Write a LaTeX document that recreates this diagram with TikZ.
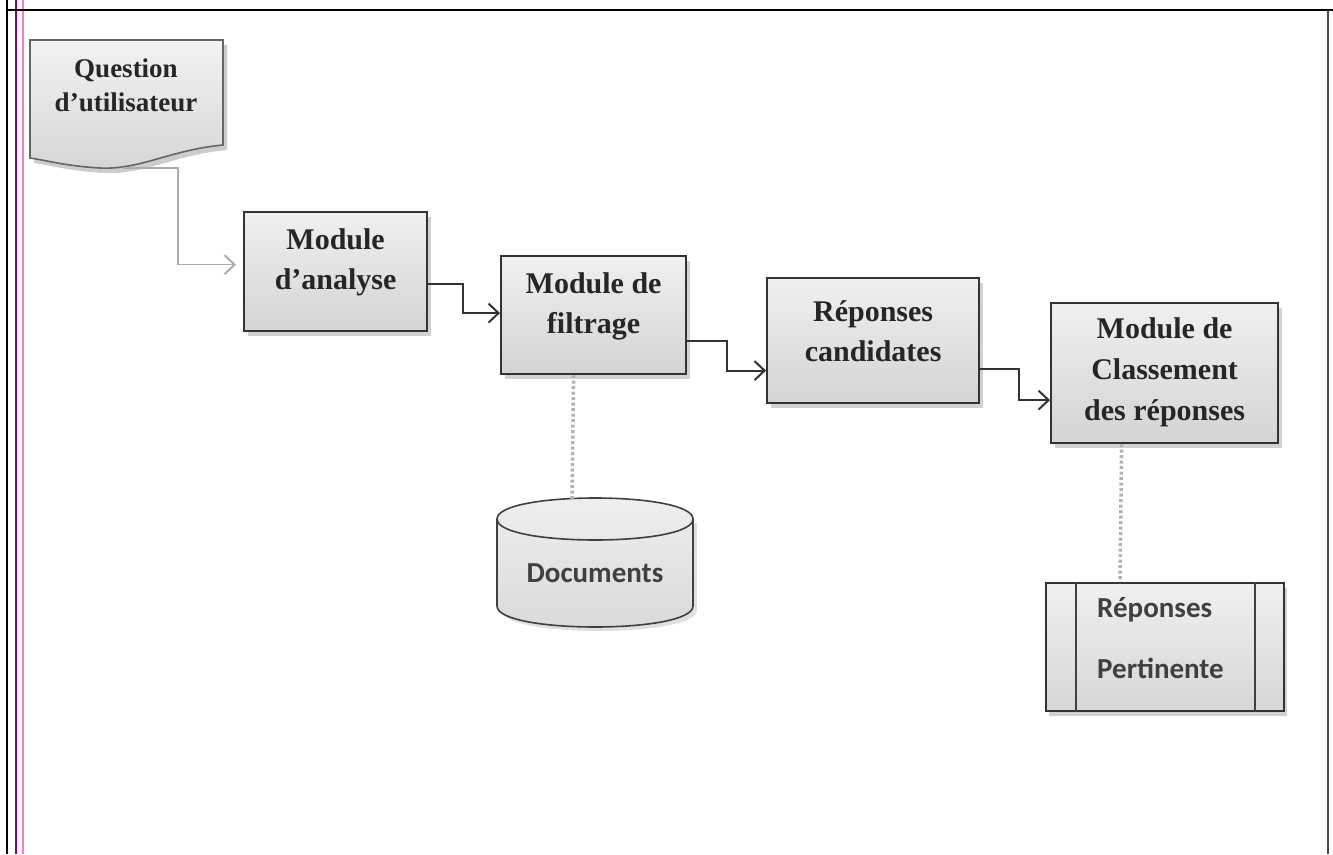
\documentclass[tikz,border=0pt]{standalone}
\usepackage{fontspec}
\setmainfont{Liberation Serif}
\newfontfamily\calib{Carlito}
\usetikzlibrary{arrows.meta,shadows}
\begin{document}
\begin{tikzpicture}[x=1pt,y=-1pt,
  box/.style={draw=black!80, line width=2.2pt, top color=gray!12, bottom color=gray!34,
    drop shadow={shadow xshift=4pt, shadow yshift=-5pt, fill=gray!45, opacity=0.8},
    inner sep=0pt, anchor=north west},
  boxtext/.style={align=center, font=\fontsize{30}{40}\selectfont\bfseries, text=black!85, inner sep=0pt, yshift=9pt},
  conn/.style={line width=2pt, draw=black!80, -{Straight Barb[length=10pt,width=19pt,line width=2pt]}},
  dots/.style={line width=3.5pt, draw=gray!60, dash pattern=on 3pt off 2.5pt},
  sanslbl/.style={font=\calib\fontsize{29}{30}\selectfont\bfseries, text=black!75, anchor=west, inner sep=0pt}]
\useasboundingbox (0,0) rectangle (1333,854);
% frame
\draw[line width=2pt, black] (7,0) -- (7,854);
\draw[line width=1.2pt, blue!50!red] (16,0) -- (16,854);
\draw[line width=1.2pt, magenta!50] (23,0) -- (23,854);
\draw[line width=2pt, black] (7,10) -- (1333,10);
\draw[line width=1.5pt, black!70] (1328,10) -- (1328,854);
% question (document shape)
\fill[gray!40] (34,45) -- (227,45) -- (227,150) .. controls (174,155) and (144,175) .. (104,173) .. controls (69,171) and (49,165) .. (34,163) -- cycle;
\draw[line width=1.6pt, draw=black!60, top color=gray!10, bottom color=gray!32] (30,40) -- (223,40) -- (223,145) .. controls (170,150) and (140,170) .. (100,168) .. controls (65,166) and (45,160) .. (30,158) -- cycle;
\node[font=\fontsize{27}{34}\selectfont\bfseries, text=black!85, align=center] (q) at (126,85) {Question\\d’utilisateur};
\coordinate (qout) at (123,168);
% modules
\node[box, minimum width=183pt, minimum height=119pt, label={[boxtext]center:{Module\\d’analyse}}] (ana) at (243,211) {};
\node[box, minimum width=185pt, minimum height=118pt, label={[boxtext]center:{Module de\\filtrage}}] (fil) at (500,255) {};
\node[box, minimum width=212pt, minimum height=125pt, label={[boxtext]center:{Réponses\\candidates}}] (cand) at (766,277) {};
\node[box, minimum width=227pt, minimum height=140pt, label={[boxtext, yshift=-8pt, font=\fontsize{30}{41}\selectfont\bfseries]center:{Module de\\Classement\\des réponses}}] (cls) at (1050,302) {};
% documents cylinder
\fill[gray!25] (501,523) -- (501,610) .. controls (501,638) and (697,638) .. (697,610) -- (697,523) -- cycle;
\draw[line width=1.6pt, draw=black!75, top color=gray!12, bottom color=gray!30] (497,519) -- (497,606) .. controls (497,634) and (693,634) .. (693,606) -- (693,519) .. controls (693,491) and (497,491) .. (497,519) -- cycle;
\draw[line width=1.6pt, draw=black!75] (497,519) .. controls (497,547) and (693,547) .. (693,519);
\node[font=\calib\fontsize{29}{30}\selectfont\bfseries, text=black!75] (docs) at (595,573) {Documents};
\coordinate (docstop) at (572,499);
% pertinent answers (predefined process)
\node[draw=black!80, line width=2pt, top color=gray!12, bottom color=gray!32,
  drop shadow={shadow xshift=3pt, shadow yshift=-5pt, fill=gray!45, opacity=0.8},
  minimum width=238pt, minimum height=128pt, anchor=north west, inner sep=0pt] (pert) at (1045,582) {};
\draw[line width=1.6pt, black!75] ([xshift=31pt]pert.north west) -- ([xshift=31pt]pert.south west);
\draw[line width=1.6pt, black!75] ([xshift=-30pt]pert.north east) -- ([xshift=-30pt]pert.south east);
\node[sanslbl] (r1) at (1097,610) {Réponses};
\node[sanslbl] (r2) at (1097,668) {Pertinente};
% connectors
\draw[conn, draw=gray!65, line width=1.6pt, shorten >=7pt] (qout) -- (178,168) |- ([yshift=7pt]ana.west);
\draw[conn] ([yshift=-12pt]ana.east) -- ++(35,0) |- ([yshift=2pt]fil.west);
\draw[conn] ([yshift=-26pt]fil.east) -- ++(40,0) |- ([yshift=-30pt]cand.west);
\draw[conn] ([yshift=-28pt]cand.east) -- ++(39,0) |- ([yshift=-27pt]cls.west);
\draw[dots] ([xshift=-20pt]fil.south) -- (docstop);
\draw[dots] ([xshift=-43pt]cls.south) -- ([xshift=-45pt]pert.north);
\end{tikzpicture}
\end{document}
